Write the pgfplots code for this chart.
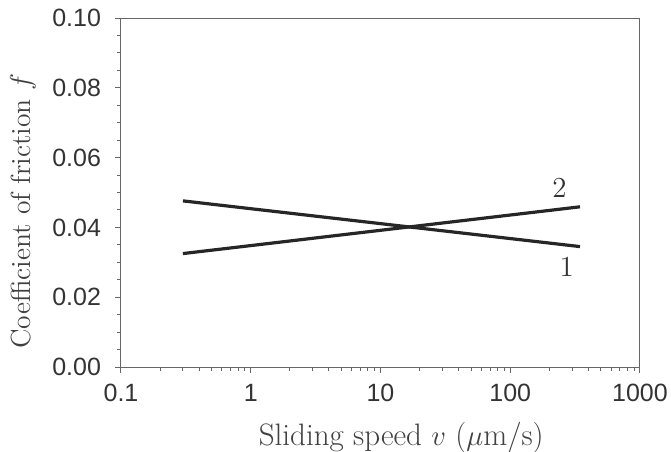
\documentclass[border=0pt]{standalone}
\usepackage{fontspec}
\usepackage{pgfplots}
\pgfplotsset{compat=1.18}
\newfontfamily\arial{Liberation Sans}
\begin{document}
\begin{tikzpicture}
\useasboundingbox (-60.5pt,-42pt) rectangle (275pt,183.5pt);
\begin{axis}[
  at={(0,0)}, anchor=south west,
  scale only axis,
  width=259.5pt, height=174.5pt,
  xmode=log,
  xmin=0.1, xmax=1000,
  ymin=0, ymax=0.10,
  xtick={0.1,1,10,100,1000},
  xticklabels={0.1,1,10,100,1000},
  ytick={0,0.02,0.04,0.06,0.08,0.10},
  yticklabel style={/pgf/number format/fixed,/pgf/number format/fixed zerofill,/pgf/number format/precision=2, xshift=-3.5pt},
  /pgf/number format/assume math mode=true,
  minor y tick num=3,
  tick align=outside,
  tick pos=left,
  major tick length=3pt,
  minor tick length=1.8pt,
  axis line style={draw=black!60, line width=0.5pt},
  every tick/.style={black!60, line width=0.5pt},
  ticklabel style={font=\arial\fontsize{12.5}{12.5}\selectfont, text=black!80},
  xticklabel style={yshift=-2pt},
  xlabel={Sliding speed $v$ ($\mu$m/s)},
  ylabel={Coefficient of friction $f$},
  every axis x label/.style={at={(axis description cs:0.54,0)}, anchor=center, yshift=-35.5pt, font=\fontsize{15.5}{17}\selectfont, text=black!75},
  every axis y label/.style={at={(axis description cs:0,0.447)}, xshift=-49pt, rotate=90, anchor=center, font=\fontsize{13.8}{15}\selectfont, text=black!75},
]
\addplot[black!85, line width=1.6pt] coordinates {(0.3,0.0476) (345,0.0345)};
\addplot[black!85, line width=1.6pt] coordinates {(0.3,0.0325) (345,0.0459)};
\node[font=\fontsize{14.5}{16}\selectfont, text=black!80] at (axis cs:240,0.0513) {2};
\node[font=\fontsize{14.5}{16}\selectfont, text=black!80] at (axis cs:273,0.0287) {1};
\end{axis}
\end{tikzpicture}
\end{document}
